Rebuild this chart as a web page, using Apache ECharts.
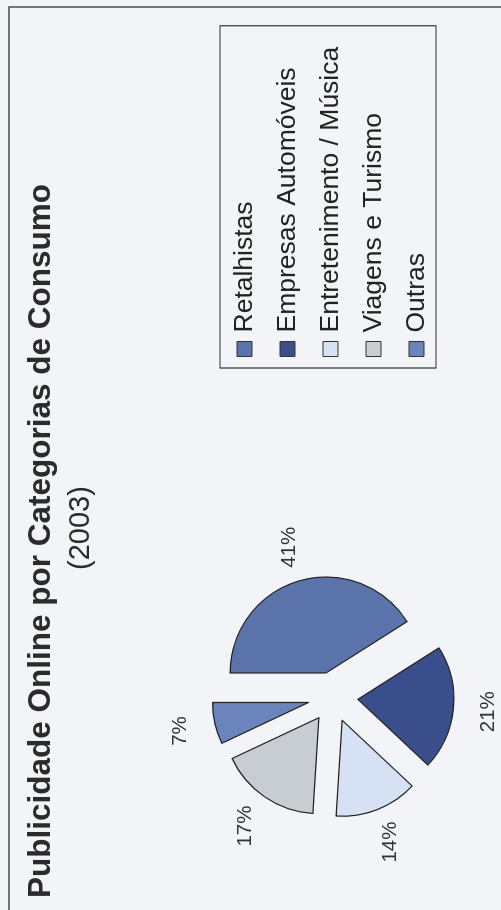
<!DOCTYPE html>
<html>
<head>
<meta charset="utf-8">
<script src="https://cdn.jsdelivr.net/npm/echarts@6/dist/echarts.min.js"></script>
<style>
  html, body { margin:0; padding:0; width:501px; height:910px; overflow:hidden; background:#f3f4f7; }
  #chart { position:absolute; left:0; top:0; width:910px; height:501px;
           transform-origin:0 0; transform: translate(0px, 910px) rotate(-90deg); }
</style>
</head>
<body>
<div id="chart"></div>
<script>
// Data
const categories = ['Retalhistas', 'Empresas Automóveis', 'Entretenimento / Música', 'Viagens e Turismo', 'Outras'];
const shares = [41, 21, 14, 17, 7];
const sliceColors = ['#5a73aa', '#3b4e8c', '#d6e2f4', '#c8cdd4', '#6b84bc'];
const titleText = 'Publicidade Online por Categorias de Consumo';
const subtitleText = '(2003)';

const FONT = "'Liberation Sans', Arial, sans-serif";
const chart = echarts.init(document.getElementById('chart'), null, { renderer: 'canvas', width: 910, height: 501 });

const pieData = categories.map((c, i) => ({
  name: c, value: shares[i], selected: true,
  itemStyle: { color: sliceColors[i] }
}));
const labelData = categories.map((c, i) => ({ name: c, value: shares[i] }));

chart.setOption({
  animation: false,
  backgroundColor: '#f3f4f7',
  title: [
    { text: titleText, left: 12, top: 25, padding: 0,
      textStyle: { fontFamily: FONT, fontSize: 31.5, fontWeight: 'bold', color: '#2b2b2b' } },
    { text: subtitleText, left: 340, top: 66, padding: 0,
      textStyle: { fontFamily: FONT, fontSize: 29, fontWeight: 'normal', color: '#2b2b2b' } }
  ],
  legend: {
    orient: 'vertical', left: 542, top: 220,
    data: categories,
    icon: 'rect', itemWidth: 15, itemHeight: 15, itemGap: 16,
    padding: [11, 21, 6, 11],
    borderColor: '#333', borderWidth: 1.2,
    itemStyle: { borderColor: '#333', borderWidth: 1 },
    textStyle: { fontFamily: FONT, fontSize: 26.5, color: '#222', lineHeight: 27, padding: [0, 0, 0, 4] },
    selectedMode: false
  },
  graphic: [{
    type: 'rect', silent: true,
    shape: { x: -20, y: 9, width: 923, height: 600 },
    style: { fill: 'none', stroke: '#4a4a4a', lineWidth: 1.5 }
  }],
  series: [
    {
      type: 'pie', center: [213, 333], radius: [0, 96],
      startAngle: 90, clockwise: true,
      selectedMode: 'multiple', selectedOffset: 25,
      data: pieData,
      label: { show: false }, labelLine: { show: false },
      itemStyle: { borderColor: '#222', borderWidth: 1.2 },
      select: { itemStyle: { borderColor: '#222', borderWidth: 1.2 } },
      emphasis: { disabled: true },
      silent: true
    },
    {
      type: 'pie', center: [213, 333], radius: [140, 166],
      startAngle: 90, clockwise: true,
      data: labelData,
      itemStyle: { color: 'rgba(0,0,0,0)', borderWidth: 0 },
      label: { show: true, position: 'inside', formatter: '{c}%',
               fontFamily: FONT, fontSize: 20.5, color: '#333' },
      labelLine: { show: false },
      emphasis: { disabled: true },
      silent: true
    }
  ]
});
</script>
</body>
</html>
